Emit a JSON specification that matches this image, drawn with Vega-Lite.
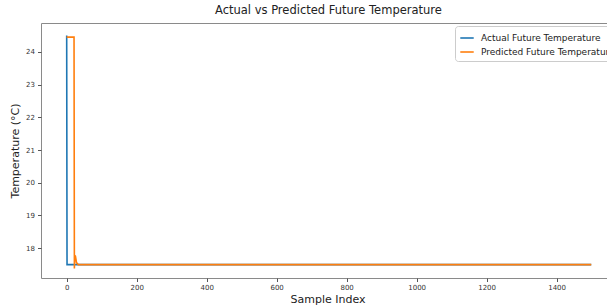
{
  "$schema": "https://vega.github.io/schema/vega-lite/v6.json",
  "autosize": "none",
  "width": 566,
  "height": 255,
  "padding": {"left": 41, "top": 23, "right": 0, "bottom": 28},
  "background": "white",
  "config": {
    "font": "DejaVu Sans",
    "view": {"stroke": "#8a8a8a", "strokeWidth": 1},
    "axis": {"grid": false, "domain": false, "tickColor": "#555", "tickSize": 3.5, "labelColor": "#333", "labelFontSize": 7, "titleFontWeight": "normal", "titleColor": "#222", "titleFontSize": 11}
  },
  "title": {"text": "Actual vs Predicted Future Temperature", "fontSize": 11.5, "fontWeight": "normal", "color": "#222", "anchor": "start", "frame": "group", "dx": 174, "offset": 7},
  "data": {"values": [
    {"idx": 0, "temp": 24.5, "series": "Actual Future Temperature"},
    {"idx": 1, "temp": 17.5, "series": "Actual Future Temperature"},
    {"idx": 1499, "temp": 17.5, "series": "Actual Future Temperature"},
    {"idx": 0, "temp": 24.45, "series": "Predicted Future Temperature"},
    {"idx": 21, "temp": 24.45, "series": "Predicted Future Temperature"},
    {"idx": 22, "temp": 17.38, "series": "Predicted Future Temperature"},
    {"idx": 23, "temp": 17.78, "series": "Predicted Future Temperature"},
    {"idx": 25, "temp": 17.76, "series": "Predicted Future Temperature"},
    {"idx": 28, "temp": 17.56, "series": "Predicted Future Temperature"},
    {"idx": 33, "temp": 17.5, "series": "Predicted Future Temperature"},
    {"idx": 1499, "temp": 17.5, "series": "Predicted Future Temperature"}
  ]},
  "mark": {"type": "line", "strokeWidth": 1.6},
  "encoding": {
    "x": {"field": "idx", "type": "quantitative", "scale": {"domain": [-73.4, 1544], "nice": false, "zero": false},
      "axis": {"values": [0, 200, 400, 600, 800, 1000, 1200, 1400], "format": "d", "title": "Sample Index", "titleX": 286.5, "titleY": 24, "titleBaseline": "alphabetic", "labelPadding": 2}},
    "y": {"field": "temp", "type": "quantitative", "scale": {"domain": [17.09, 24.88], "nice": false, "zero": false},
      "axis": {"values": [18, 19, 20, 21, 22, 23, 24], "title": "Temperature (°C)", "titleX": -21, "labelPadding": 3}},
    "color": {"field": "series", "type": "nominal",
      "scale": {"domain": ["Actual Future Temperature", "Predicted Future Temperature"], "range": ["#1f77b4", "#ff7f0e"]},
      "legend": {"title": null, "orient": "none", "legendX": 414, "legendY": 3, "symbolType": "stroke", "symbolSize": 180, "symbolStrokeWidth": 1.6, "labelFontSize": 9, "labelColor": "#222", "padding": 4, "rowPadding": 1, "strokeColor": "#ccc", "fillColor": "white", "cornerRadius": 3, "labelOffset": 6}}
  }
}
